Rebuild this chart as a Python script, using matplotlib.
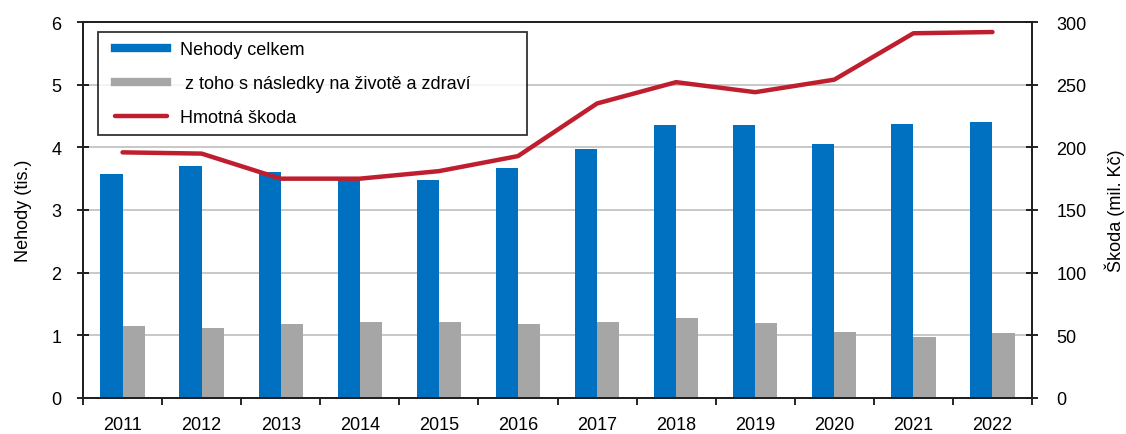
import matplotlib
matplotlib.use("Agg")
import matplotlib.pyplot as plt
from matplotlib.lines import Line2D
from matplotlib.legend_handler import HandlerLine2D
import numpy as np

plt.rcParams['font.family'] = ['Liberation Sans', 'DejaVu Sans']

years = ['2011', '2012', '2013', '2014', '2015', '2016', '2017', '2018', '2019', '2020', '2021', '2022']
nehody_celkem = [3.58, 3.71, 3.61, 3.49, 3.48, 3.67, 3.97, 4.35, 4.35, 4.06, 4.38, 4.41]
nasledky = [1.15, 1.12, 1.18, 1.22, 1.22, 1.18, 1.22, 1.28, 1.19, 1.06, 0.97, 1.03]
hmotna_skoda = [196, 195, 175, 175, 181, 193, 235, 252, 244, 254, 291, 292]

labels = ['Nehody celkem', ' z toho s následky na životě a zdraví', 'Hmotná škoda']
c_blue = '#0070C0'
c_gray = '#A6A6A6'
c_red = '#BE1E2D'

fig = plt.figure(figsize=(11.26, 4.35), dpi=100)
ax = fig.add_axes([83/1126, 1-399/435, 949/1126, 376/435])
ax2 = ax.twinx()

x = np.arange(len(years))
w = 0.28
ax.bar(x - w/2, nehody_celkem, width=w, color=c_blue, zorder=2)
ax.bar(x + w/2, nasledky, width=w, color=c_gray, zorder=2)
ax2.plot(x, hmotna_skoda, color=c_red, lw=3.2, zorder=3, solid_capstyle='round')

ax.set_xlim(-0.5, len(years) - 0.5)
ax.set_ylim(0, 6)
ax2.set_ylim(0, 300)
ax.set_yticks(range(0, 7))
ax2.set_yticks(range(0, 301, 50))
ax.yaxis.grid(True, color='#BFBFBF', lw=1.2, zorder=0)
ax.set_axisbelow(True)

fs = 13
ax.set_xticks(x)
ax.set_xticklabels(years)
ax.set_xticks(np.arange(-0.5, len(years)), minor=True)
ax.tick_params(axis='x', which='major', length=0, labelsize=fs, pad=13)
ax.tick_params(axis='x', which='minor', direction='out', length=5, width=1.2)
ax.tick_params(axis='y', direction='inout', length=9, width=1.2, labelsize=fs, pad=11)
ax2.tick_params(axis='y', direction='inout', length=9, width=1.2, labelsize=fs, pad=13)

for a in (ax, ax2):
    for s in a.spines.values():
        s.set_linewidth(1.3)
        s.set_color('#202020')

ax.set_ylabel('Nehody (tis.)', fontsize=13, labelpad=14)
ax2.set_ylabel('Škoda (mil. Kč)', fontsize=13, labelpad=13)

handles = [Line2D([], [], color=c_blue, lw=6),
           Line2D([], [], color=c_gray, lw=6),
           Line2D([], [], color=c_red, lw=3.2, solid_capstyle='round')]
hmap = {h: HandlerLine2D(xpad=0.45) for h in handles}
leg = ax2.legend(handles, labels, loc='upper left',
                 bbox_to_anchor=(98/1126, 1-135/435, 429/1126, 102/435),
                 bbox_transform=fig.transFigure, mode='expand', handler_map=hmap,
                 fontsize=fs, frameon=True, fancybox=False, handlelength=3.3,
                 labelspacing=0.95, borderpad=0.5, handletextpad=0.72, borderaxespad=0)
leg.get_frame().set_edgecolor('black')
leg.get_frame().set_linewidth(1.3)
leg.set_zorder(10)

fig.savefig('out.png', dpi=100)
